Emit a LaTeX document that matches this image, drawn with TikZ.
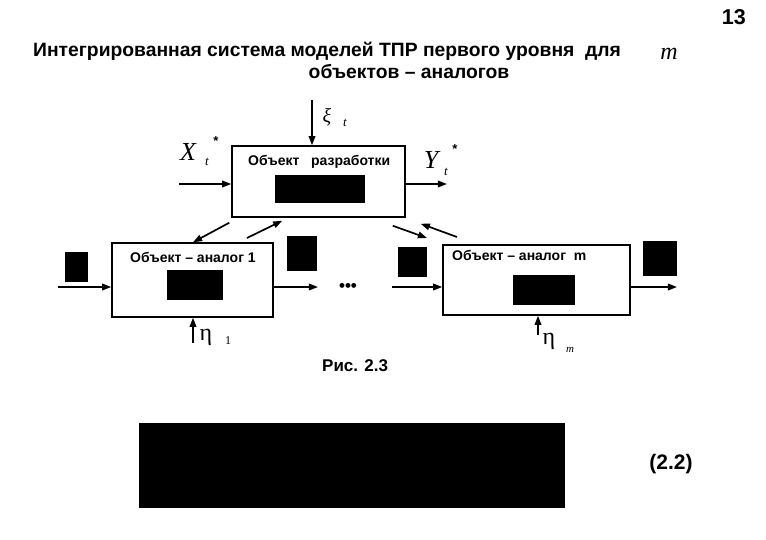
\documentclass[tikz,border=0pt]{standalone}
\usepackage{fontspec}
\setmainfont{Liberation Sans}
\newfontfamily\tms{Liberation Serif}
\usetikzlibrary{arrows.meta,positioning,calc}
\tikzset{
  blk/.style={draw,line width=1.5pt,fill=white,inner sep=0pt},
  flow/.style={-{Triangle[length=3.2mm,width=2.3mm]},line width=1.7pt},
  boxlabel/.style={font=\bfseries\fontsize{14}{16}\selectfont,inner sep=0pt,anchor=base west},
  head/.style={font=\bfseries\fontsize{19.3}{22}\selectfont,inner sep=0pt},
  sym/.style={font=\tms\itshape\fontsize{26}{28}\selectfont,inner sep=0pt},
  gr/.style={font=\tms\fontsize{24}{26}\selectfont,inner sep=0pt},
  idx/.style={font=\tms\itshape\fontsize{13}{14}\selectfont,inner sep=0pt},
  star/.style={font=\bfseries\fontsize{13}{13}\selectfont,inner sep=0pt},
}

\begin{document}
\begin{tikzpicture}[x=1pt,y=-1pt]
  \useasboundingbox (0,0) rectangle (766,540);

  % page number and heading
  \node[font=\bfseries\fontsize{21.5}{23}\selectfont,inner sep=0pt,anchor=base east] (pg) at (746,25){13};
  \node[head,anchor=base west] (ttl1) at (33,57){Интегрированная система моделей ТПР первого уровня\ \ для};
  \node[sym,font=\tms\itshape\fontsize{24}{26}\selectfont] (ttlm) at (669,54){m};
  \node[head,anchor=base] (ttl2) at (409,79){объектов – аналогов};

  % blocks
  \node[blk,minimum width=173pt,minimum height=71pt] (obj) at (318.5,181.5){};
  \node[blk,minimum width=161pt,minimum height=74pt] (an1) at (192.5,280){};
  \node[blk,minimum width=187pt,minimum height=70pt] (anm) at (536.5,280){};
  \node[boxlabel] (tobj) at (248,166){Объект\ \ \ разработки};
  \node[boxlabel] (tan1) at (130,262){Объект – аналог 1};
  \node[boxlabel] (tanm) at (452,261){Объект – аналог\ \ m};

  % hidden formulas
  \fill (275,175) rectangle (365,203);
  \fill (167,270) rectangle (223,300);
  \fill (513,275) rectangle (575,305);
  \fill (65,252) rectangle (88,282);
  \fill (287,236) rectangle (317,271);
  \fill (398,247) rectangle (427,277);
  \fill (643,241) rectangle (677,276);
  \fill (139,423) rectangle (565,508);

  % free ends
  \coordinate (xi) at (312,100);
  \coordinate (xin) at (179,184);
  \coordinate (yout) at (447,184);
  \coordinate (a1in) at (58,287);
  \coordinate (a1out) at (318,287);
  \coordinate (amin) at (392,287);
  \coordinate (amout) at (677,287);
  \coordinate (eta1) at (193,343);
  \coordinate (etam) at (538,335);

  \draw[flow] (xi) -- (xi |- obj.north);
  \draw[flow] (xin) -- (xin -| obj.west);
  \draw[flow] (yout -| obj.east) -- (yout);
  \draw[flow] (a1in) -- (a1in -| an1.west);
  \draw[flow] (a1out -| an1.east) -- (a1out);
  \draw[flow] (amin) -- (amin -| anm.west);
  \draw[flow] (amout -| anm.east) -- (amout);
  \draw[flow] (eta1) -- (eta1 |- an1.south);
  \draw[flow] (etam) -- (etam |- anm.south);

  % exchange between the object and its analogues
  \draw[flow] ($(obj.south west)+(-2,5)$) -- (an1.north -| 193,0);
  \draw[flow] (247,238) -- ($(obj.south west)+(51,3)$);
  \draw[flow] ($(obj.south east)+(-13,8)$) -- (427,238);
  \draw[flow] (457,237) -- ($(obj.south east)+(15,6)$);

  \node[font=\bfseries\fontsize{17}{18}\selectfont,inner sep=0pt] (dots) at (348,287){•••};

  % signals
  \node[gr,font=\tms\itshape\fontsize{20}{22}\selectfont] (xis) at (327,117){ξ};
  \node[idx] (xit) at (345,123){t};
  \node[sym] (xs) at (188,152){X};
  \node[idx] (xt) at (207,162){t};
  \node[star] (xst) at (216,141){*};
  \node[sym] (ys) at (431,160){Y};
  \node[idx] (yt) at (446,172){t};
  \node[star] (yst) at (455,149){*};
  \node[gr] (e1) at (206,337){η};
  \node[font=\tms\fontsize{12}{13}\selectfont,inner sep=0pt] (e1i) at (228,341){1};
  \node[gr] (em) at (549,341){η};
  \node[idx,font=\tms\itshape\fontsize{11}{12}\selectfont] (emi) at (570,350){m};

  % caption and equation number
  \node[font=\bfseries\fontsize{17}{19}\selectfont,inner sep=0pt,anchor=base west] (fig) at (322,371){Рис. 2.3};
  \node[font=\bfseries\fontsize{21}{23}\selectfont,inner sep=0pt] (eqn) at (671,464){(2.2)};
\end{tikzpicture}
\end{document}
